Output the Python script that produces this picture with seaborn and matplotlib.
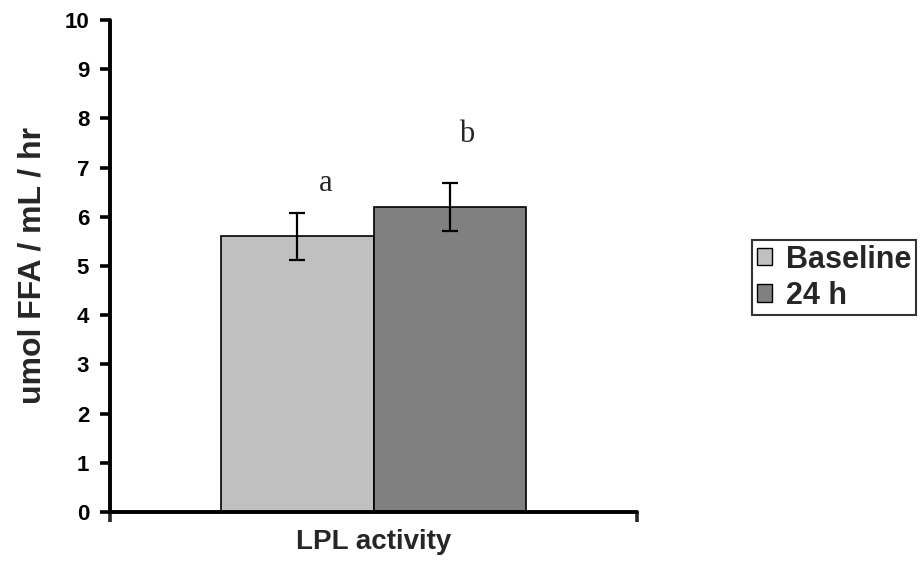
import matplotlib
matplotlib.use("Agg")
import matplotlib.pyplot as plt
from matplotlib.patches import Patch
import seaborn as sns
import pandas as pd

# ========== data ==========
categories = ["LPL activity"]
groups = ["Baseline", "24 h"]
means = [5.6, 6.2]
sems = [0.48, 0.48]
letters = ["a", "b"]
letter_y = [6.38, 7.38]
colors = ["#C0C0C0", "#808080"]
yticks = list(range(0, 11))

sns.set_style("white")
plt.rcParams["font.family"] = ["Liberation Sans", "DejaVu Sans"]

df = pd.DataFrame({
    "measure": categories * len(groups),
    "time": groups,
    "value": means,
})

fig = plt.figure(figsize=(9.21, 5.66), dpi=100)
ax = fig.add_axes([110 / 921, 54 / 566, 527 / 921, 492 / 566])

sns.barplot(data=df, x="measure", y="value", hue="time", hue_order=groups,
            palette=colors, edgecolor="black", linewidth=1.2,
            errorbar=None, width=0.8, legend=False, ax=ax)

# error bars + letters
letter_dx = [0.074, 0.045]
for cont, m, e, lab, ly, dx in zip(ax.containers, means, sems, letters, letter_y, letter_dx):
    bar = cont.patches[0]
    cx = bar.get_x() + bar.get_width() / 2
    ax.errorbar(cx, m, yerr=e, fmt="none", ecolor="black",
                elinewidth=1.6, capsize=6, capthick=1.6)
    ax.text(cx + dx, ly, lab, ha="center", va="bottom",
            fontsize=22, family=["Liberation Serif", "DejaVu Serif"])

ax.set_ylim(0, 10)
ax.set_xlim(-0.693, 0.693)
ax.set_yticks(yticks)
ax.set_yticklabels([str(t) for t in yticks], fontsize=16, fontweight="bold")
ax.set_xticks([0])
ax.set_xticklabels(categories, fontsize=20, fontweight="bold")
ax.set_xticks([-0.693, 0.693], minor=True)
ax.tick_params(axis="x", which="major", bottom=False, length=0, pad=12)
ax.tick_params(axis="x", which="minor", bottom=True, direction="out",
               length=7, width=2.6)
ax.tick_params(axis="y", left=True, direction="out", length=7, width=2.6,
               pad=8, colors="black")
ax.set_xlabel("")
ax.set_ylabel("umol FFA / mL / hr", fontsize=23, fontweight="bold", labelpad=12)

for s in ["top", "right"]:
    ax.spines[s].set_visible(False)
for s in ["left", "bottom"]:
    ax.spines[s].set_linewidth(2.8)
    ax.spines[s].set_color("black")
    ax.spines[s].set_capstyle("round")

handles = [Patch(facecolor=c, edgecolor="black", linewidth=1) for c in colors]
leg = fig.legend(handles, groups, loc="upper left",
                 bbox_to_anchor=(752 / 921, 1 - 240 / 566),
                 bbox_transform=fig.transFigure, borderaxespad=0,
                 frameon=True, fancybox=False, edgecolor="black",
                 prop={"size": 22, "weight": "bold"},
                 handlelength=0.5, handleheight=0.5, handletextpad=0.45,
                 labelspacing=0.2, borderpad=0.15)
leg.get_frame().set_linewidth(1.5)

fig.savefig("out.png", dpi=100)
